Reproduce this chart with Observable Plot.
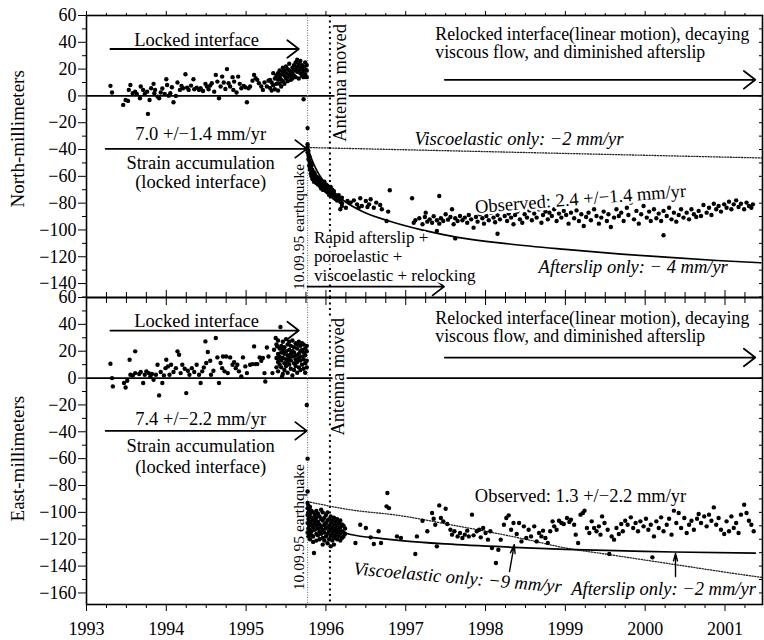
<!DOCTYPE html>
<html><head><meta charset="utf-8">
<script src="https://cdn.jsdelivr.net/npm/d3@7"></script>
<script src="https://cdn.jsdelivr.net/npm/@observablehq/plot@0.6"></script>
<style>body{margin:0;background:#fff}#chart svg{display:block}</style>
</head><body><div id="chart"></div><script>
// ---------- DATA (year, millimeters) ----------
const northObserved = [
[1993.30,7.5],[1993.32,2.5],[1993.46,-6.7],[1993.49,-3],[1993.52,-3.7],[1993.53,4.5],[1993.55,8.2],[1993.58,2],[1993.61,3.2],[1993.63,1.5],[1993.67,-1.7],[1993.68,7],[1993.71,4.5],[1993.73,1.5],[1993.76,3.2],[1993.77,-13.4],[1993.79,-3],[1993.81,5.7],[1993.84,9],[1993.85,2],[1993.86,4.5],[1993.89,-0.5],[1993.91,-1.7],[1993.93,2.5],[1993.95,5.5],[1993.98,1.5],[1994.00,12.4],[1994.01,8.2],[1994.03,0.2],[1994.05,2],[1994.07,6.5],[1994.09,-4.7],[1994.12,0],[1994.14,10],[1994.17,4.5],[1994.19,7.5],[1994.21,5.7],[1994.24,16.2],[1994.26,6.2],[1994.28,4.5],[1994.31,7.7],[1994.34,12.4],[1994.35,5],[1994.38,6.2],[1994.41,4.5],[1994.43,5.7],[1994.46,3.7],[1994.49,9],[1994.51,7],[1994.53,5],[1994.55,7.7],[1994.57,9.5],[1994.60,3.2],[1994.62,15.7],[1994.64,10.7],[1994.66,-1.7],[1994.68,7],[1994.70,14.4],[1994.72,10],[1994.74,5.2],[1994.76,20],[1994.78,9.5],[1994.80,7],[1994.83,14],[1994.84,4.5],[1994.85,10.7],[1994.88,2.5],[1994.90,14.4],[1994.92,9],[1994.94,5.7],[1994.97,7.5],[1994.99,6.5],[1995.01,-4.7],[1995.03,5.7],[1995.05,7],[1995.08,11.4],[1995.10,15.7],[1995.12,13.2],[1995.14,12],[1995.16,9.5],[1995.19,7],[1995.21,4.5],[1995.23,10],[1995.26,7],[1995.28,11.4],
[1995.30,12],[1995.30,6],[1995.32,10],[1995.32,4],[1995.34,17],[1995.34,8],[1995.36,13],[1995.36,5],[1995.38,9],[1995.38,15],[1995.40,12],[1995.40,17],[1995.40,4],[1995.42,14],[1995.42,9],[1995.42,19],[1995.44,16],[1995.44,7],[1995.44,12],[1995.46,18],[1995.46,11],[1995.46,21],[1995.48,15],[1995.48,9],[1995.48,19],[1995.50,13],[1995.50,17],[1995.50,22],[1995.52,20],[1995.52,14],[1995.52,11],[1995.54,16],[1995.54,19],[1995.54,24],[1995.56,12],[1995.56,18],[1995.56,15],[1995.58,21],[1995.58,17],[1995.58,13],[1995.60,19],[1995.60,23],[1995.60,15],[1995.62,14],[1995.62,20],[1995.62,25],[1995.64,18],[1995.64,22],[1995.64,27],[1995.66,24],[1995.66,19],[1995.66,13],[1995.68,17],[1995.68,21],[1995.68,26],[1995.70,15],[1995.70,20],[1995.70,23],[1995.72,18],[1995.72,22],[1995.72,14],[1995.74,20],[1995.74,25],[1995.74,16],[1995.76,14],[1995.76,19],[1995.76,23],[1995.72,-2.5],
[1995.77,-24],[1995.77,-36],[1995.77,-38],[1995.77,-40],[1995.77,-42],[1995.78,-44],[1995.78,-41],[1995.78,-47],[1995.79,-48],[1995.79,-52],[1995.79,-45],[1995.80,-50],[1995.80,-55],[1995.80,-53],[1995.81,-54],[1995.81,-58],[1995.81,-50],[1995.82,-56],[1995.82,-60],[1995.82,-52],[1995.83,-58],[1995.83,-55],[1995.83,-62],[1995.85,-57],[1995.85,-60],[1995.85,-64],[1995.86,-61],[1995.86,-58],[1995.86,-63],[1995.88,-62],[1995.88,-65],[1995.88,-60],[1995.90,-63],[1995.90,-66],[1995.90,-61],[1995.92,-64],[1995.92,-67],[1995.92,-62],[1995.94,-66],[1995.94,-63],[1995.94,-69],[1995.96,-65],[1995.96,-68],[1995.96,-70],[1995.98,-67],[1995.98,-70],[1995.98,-64],[1996.00,-68],[1996.00,-71],[1996.00,-66],[1996.02,-70],[1996.02,-67],[1996.02,-72],[1996.04,-69],[1996.04,-72],[1996.04,-74],[1996.06,-71],[1996.06,-74],[1996.06,-68],[1996.08,-72],[1996.08,-75],[1996.08,-70],[1996.10,-73],[1996.10,-76],[1996.10,-71],[1996.12,-74],[1996.12,-77],[1996.14,-75],[1996.14,-78],[1996.16,-76],[1996.16,-74],[1996.18,-77],[1996.18,-79],[1996.18,-84.6],[1996.20,-76],[1996.20,-80],[1996.20,-82.1],[1996.25,-83.4],
[1996.27,-78.4],[1996.31,-79.6],[1996.35,-77.9],[1996.39,-80.9],[1996.41,-83.4],[1996.43,-76.4],[1996.45,-82.1],[1996.50,-78.4],[1996.52,-82.9],[1996.54,-80.9],[1996.56,-77.1],[1996.60,-83.4],[1996.63,-79.6],[1996.68,-81.4],[1996.70,-84.6],[1996.76,-93.3],[1996.78,-86.3],[1996.80,-70.4],[1997.08,-76.4],[1997.25,-87.1],[1997.39,-100.8],[1997.42,-74.7],[1997.58,-84.6],[1997.62,-106.3],[1998.15,-102.8],[2000.23,-104],
[1997.10,-94.6],[1997.12,-92.8],[1997.17,-91.3],[1997.21,-95.8],[1997.24,-90.3],[1997.27,-93.8],[1997.30,-92.1],[1997.33,-94.6],[1997.35,-89.8],[1997.39,-92.8],[1997.42,-95.3],[1997.44,-91.3],[1997.47,-93.3],[1997.50,-88.3],[1997.53,-92.3],[1997.56,-90.3],[1997.60,-95.8],[1997.62,-91.3],[1997.65,-93.3],[1997.68,-89.6],[1997.71,-92.8],[1997.74,-90.8],[1997.77,-94.6],[1997.79,-88.8],[1997.82,-92.1],[1997.85,-98.3],[1997.88,-90.3],[1997.90,-93.8],[1997.93,-88.3],[1997.96,-91.3],[1997.98,-95.3],[1998.01,-89.6],[1998.04,-92.8],[1998.07,-87.1],[1998.10,-90.8],[1998.12,-94.3],[1998.15,-88.8],[1998.18,-92.1],[1998.21,-85.8],[1998.24,-89.6],[1998.27,-93.3],[1998.29,-87.8],[1998.32,-90.8],[1998.35,-95.8],[1998.37,-88.8],[1998.40,-86.3],[1998.43,-92.1],[1998.46,-94.6],[1998.49,-88.3],[1998.52,-90.8],[1998.55,-85.4],[1998.58,-92.8],[1998.61,-87.8],[1998.64,-90.8],[1998.67,-84.6],[1998.70,-94.6],[1998.72,-88.8],[1998.75,-86.3],[1998.78,-92.1],[1998.80,-87.1],[1998.83,-89.6],[1998.86,-84.6],[1998.89,-93.3],[1998.92,-87.8],[1998.95,-90.8],[1998.98,-85.8],[1999.01,-88.8],[1999.04,-95.3],[1999.07,-87.1],[1999.11,-91.3],[1999.14,-85.4],[1999.17,-93.3],[1999.20,-88.3],[1999.23,-97.0],[1999.26,-90.3],[1999.29,-87.1],[1999.32,-92.8],[1999.36,-84.6],[1999.39,-89.6],[1999.42,-95.3],[1999.45,-90.8],[1999.48,-86.3],[1999.52,-93.3],[1999.54,-88.3],[1999.57,-97.8],[1999.61,-90.8],[1999.64,-84.6],[1999.67,-89.6],[1999.70,-87.1],[1999.73,-93.3],[1999.77,-83.4],[1999.79,-88.8],[1999.82,-79.6],[1999.86,-92.1],[1999.89,-85.8],[1999.92,-95.3],[1999.95,-88.3],[1999.98,-82.1],[2000.02,-90.8],[2000.05,-86.3],[2000.07,-93.3],[2000.11,-84.6],[2000.14,-91.3],[2000.17,-87.8],[2000.20,-93.3],[2000.23,-85.8],[2000.27,-89.6],[2000.30,-83.4],[2000.33,-92.1],[2000.36,-87.1],[2000.39,-93.8],[2000.42,-88.8],[2000.45,-84.6],[2000.48,-90.8],[2000.52,-87.1],[2000.55,-92.1],[2000.58,-84.6],[2000.61,-88.3],[2000.64,-90.3],[2000.67,-85.8],[2000.70,-89.6],[2000.73,-81.4],[2000.77,-87.1],[2000.80,-83.4],[2000.83,-88.8],[2000.86,-80.4],[2000.89,-84.6],[2000.92,-82.1],[2000.95,-86.3],[2000.99,-80.9],[2001.02,-83.4],[2001.05,-78.9],[2001.08,-84.6],[2001.11,-80.9],[2001.14,-77.9],[2001.17,-82.9],[2001.20,-80.4],[2001.24,-84.6],[2001.27,-79.6],[2001.30,-82.1],[2001.33,-83.4],[2001.35,-80.9]
];
const northAfterslip = [[1995.77,-38],[1995.82,-47],[1995.88,-55],[1995.95,-62],[1996.05,-69],[1996.22,-78],[1996.45,-86],[1996.77,-93],[1997.2,-100],[1997.65,-105.5],[1998.3,-110.5],[1999.0,-114.5],[1999.7,-118],[2000.3,-120.5],[2000.9,-122.8],[2001.45,-124.5]];
const northViscoelastic = [[1995.77,-38.5],[2001.47,-46.3]];

const eastObserved = [
[1993.30,10.7],[1993.32,0],[1993.33,-6.2],[1993.47,-3.7],[1993.49,-7],[1993.51,-2],[1993.54,13.7],[1993.55,2.5],[1993.58,2],[1993.61,19.9],[1993.61,3.7],[1993.66,3],[1993.68,4.5],[1993.71,-3.7],[1993.73,2.5],[1993.75,5],[1993.78,3.7],[1993.80,1.2],[1993.82,3],[1993.84,-1.2],[1993.87,2.5],[1993.89,9.9],[1993.91,-12.9],[1993.93,4.5],[1993.95,-3.7],[1993.97,2],[1993.99,7.4],[1994.00,13.7],[1994.02,8.7],[1994.04,2.5],[1994.06,9.9],[1994.09,4.5],[1994.12,7.4],[1994.14,19.9],[1994.16,17.4],[1994.18,3.7],[1994.20,9.9],[1994.23,7],[1994.25,-11.2],[1994.27,5.5],[1994.29,2.5],[1994.32,7.4],[1994.35,4.5],[1994.38,9.9],[1994.41,2.5],[1994.43,-3.7],[1994.45,5],[1994.47,7.9],[1994.49,27.3],[1994.50,11.2],[1994.52,19.4],[1994.55,12.9],[1994.56,2.5],[1994.59,5.5],[1994.62,29.8],[1994.64,15.4],[1994.66,-3.7],[1994.68,11.2],[1994.70,7.4],[1994.71,16.1],[1994.73,5],[1994.75,16.1],[1994.77,3.7],[1994.80,15.4],[1994.83,9.9],[1994.85,11.9],[1994.87,7.4],[1994.89,9.9],[1994.91,5],[1994.94,1.2],[1994.96,15.4],[1994.99,8.7],[1995.01,3.7],[1995.05,9.9],[1995.08,10.4],[1995.10,23.6],[1995.12,10.4],[1995.14,10.4],[1995.17,15.4],[1995.19,12.9],[1995.21,14.9],[1995.23,3.7],[1995.24,-2.5],[1995.26,22.8],[1995.28,16.1],[1995.33,3.7],[1995.35,21.1],[1995.37,29.8],[1995.39,23.6],[1995.41,14.9],[1995.43,38],[1995.45,1.2],[1995.47,19.9],
[1995.38,25],[1995.38,15],[1995.38,8],[1995.40,28],[1995.40,12],[1995.40,18],[1995.40,5],[1995.42,22],[1995.42,10],[1995.42,16],[1995.44,19],[1995.44,8],[1995.44,24],[1995.44,13],[1995.46,27],[1995.46,15],[1995.46,3],[1995.46,21],[1995.48,23],[1995.48,11],[1995.48,18],[1995.48,6],[1995.50,29],[1995.50,14],[1995.50,20],[1995.50,9],[1995.52,17],[1995.52,25],[1995.52,4],[1995.52,12],[1995.54,21],[1995.54,27],[1995.54,10],[1995.54,15],[1995.56,24],[1995.56,7],[1995.56,18],[1995.56,13],[1995.58,28],[1995.58,16],[1995.58,2],[1995.58,20],[1995.60,19],[1995.60,23],[1995.60,11],[1995.60,6],[1995.62,26],[1995.62,14],[1995.62,17],[1995.62,9],[1995.64,22],[1995.64,12],[1995.64,25],[1995.64,4],[1995.66,18],[1995.66,27],[1995.66,8],[1995.66,15],[1995.68,24],[1995.68,13],[1995.68,20],[1995.68,6],[1995.70,21],[1995.70,10],[1995.70,16],[1995.70,26],[1995.72,25],[1995.72,14],[1995.72,7],[1995.72,19],[1995.74,17],[1995.74,22],[1995.74,11],[1995.74,4],[1995.76,20],[1995.76,13],[1995.76,24],[1995.76,8],
[1995.76,-20],[1995.77,-60],[1995.77,-84.5],
[1995.77,-93],[1995.77,-97],[1995.77,-102],[1995.77,-108],[1995.77,-115],[1995.78,-95],[1995.78,-100],[1995.78,-105],[1995.78,-112],[1995.78,-118],[1995.79,-98],[1995.79,-103],[1995.79,-110],[1995.79,-116],[1995.80,-96],[1995.80,-101],[1995.80,-107],[1995.80,-113],[1995.80,-120],[1995.82,-99],[1995.82,-104],[1995.82,-109],[1995.82,-114],[1995.82,-117],[1995.84,-100],[1995.84,-106],[1995.84,-111],[1995.84,-118],[1995.84,-122],[1995.85,-130.3],[1995.86,-102],[1995.86,-108],[1995.86,-113],[1995.86,-105],[1995.88,-99],[1995.88,-104],[1995.88,-110],[1995.88,-116],[1995.88,-121],[1995.90,-101],[1995.90,-107],[1995.90,-112],[1995.90,-117],[1995.92,-103],[1995.92,-109],[1995.92,-114],[1995.92,-120],[1995.94,-98],[1995.94,-105],[1995.94,-111],[1995.94,-116],[1995.96,-100],[1995.96,-106],[1995.96,-113],[1995.96,-119],[1995.96,-124],[1995.98,-104],[1995.98,-109],[1995.98,-115],[1995.98,-121],[1996.00,-102],[1996.00,-108],[1996.00,-112],[1996.00,-118],[1996.02,-100],[1996.02,-106],[1996.02,-111],[1996.02,-116],[1996.02,-123],[1996.04,-105],[1996.04,-110],[1996.04,-114],[1996.04,-120],[1996.06,-103],[1996.06,-108],[1996.06,-113],[1996.06,-118],[1996.06,-125.3],[1996.08,-106],[1996.08,-111],[1996.08,-116],[1996.08,-121],[1996.10,-104],[1996.10,-109],[1996.10,-114],[1996.10,-119],[1996.10,-124],[1996.12,-107],[1996.12,-112],[1996.12,-117],[1996.14,-105],[1996.14,-110],[1996.14,-115],[1996.14,-120],[1996.16,-108],[1996.16,-113],[1996.16,-118],[1996.18,-106],[1996.18,-111],[1996.18,-116],[1996.18,-121],[1996.20,-109],[1996.20,-114],[1996.20,-119],[1996.22,-110],[1996.22,-115],[1996.22,-118],[1996.24,-112],[1996.24,-116],
[1996.37,-122.8],[1996.43,-109.2],[1996.50,-111.6],[1996.56,-118.6],[1996.60,-123.6],[1996.66,-114.1],[1996.69,-122.8],[1996.76,-95.5],[1996.77,-85.6],[1996.79,-96.8],[1996.89,-117.9],[1996.94,-119.1],[1997.12,-131],[1997.14,-117.9],[1997.21,-106.2],[1997.27,-114.1],[1997.33,-100.5],[1997.35,-104.7],[1997.37,-109.2],[1997.39,-125.3],[1997.42,-94.8],[1997.44,-104.2],[1997.47,-106.7],[1997.50,-97.3],[1997.52,-108.7],[1997.56,-112.9],[1997.58,-116.6],[1997.61,-114.1],[1997.65,-117.9],[1997.68,-115.4],[1997.71,-119.1],[1997.74,-116.6],[1997.77,-113.6],[1997.79,-117.9],[1997.83,-101.7],[1997.85,-117.1],[1997.89,-114.1],[1997.92,-112.9],[1997.94,-118.6],[1997.97,-111.6],[1998.00,-115.4],[1998.03,-120.3],[1998.06,-114.1],[1998.08,-126.5],[1998.13,-137.7],[1998.16,-127.8],[1998.19,-120.3],[1998.23,-109.2],[1998.26,-104.2],[1998.29,-102.2],[1998.32,-112.9],[1998.35,-107.9],[1998.39,-116.1],[1998.42,-107.9],[1998.45,-121.6],[1998.48,-110.4],[1998.51,-119.1],[1998.54,-112.9],[1998.57,-117.9],[1998.61,-110.4],[1998.64,-121.6],[1998.67,-115.4],[1998.70,-117.9],[1998.72,-113.6],[1998.75,-119.1],[1998.78,-122.8],[1998.81,-114.1],[1998.84,-106.7],[1998.86,-110.4],[1998.89,-112.9],[1998.92,-106.2],[1998.95,-107.9],[1998.98,-108.7],[1999.02,-104.2],[1999.05,-107.2],[1999.07,-105.4],[1999.11,-109.2],[1999.13,-116.6],[1999.16,-122.8],[1999.19,-101.7],[1999.22,-100.5],[1999.24,-98.7],[1999.27,-111.6],[1999.30,-115.4],[1999.33,-106.7],[1999.36,-111.6],[1999.39,-114.1],[1999.42,-110.4],[1999.44,-116.6],[1999.46,-103],[1999.49,-107.9],[1999.53,-112.9],[1999.55,-131],[1999.58,-117.9],[1999.61,-120.3],[1999.64,-111.6],[1999.67,-116.1],[1999.70,-108.7],[1999.72,-114.1],[1999.75,-106.2],[1999.78,-109.2],[1999.82,-103.7],[1999.85,-111.6],[1999.88,-107.9],[1999.91,-114.1],[1999.94,-106.7],[1999.98,-110.4],[2000.01,-104.7],[2000.04,-112.9],[2000.07,-109.2],[2000.09,-133.5],[2000.11,-117.9],[2000.14,-106.7],[2000.17,-111.6],[2000.20,-103.7],[2000.23,-114.1],[2000.27,-109.2],[2000.30,-104.7],[2000.33,-116.6],[2000.36,-98.7],[2000.39,-107.9],[2000.42,-100.5],[2000.45,-111.6],[2000.49,-104.2],[2000.52,-115.4],[2000.55,-109.2],[2000.58,-106.2],[2000.61,-112.9],[2000.65,-104.7],[2000.67,-101.2],[2000.70,-107.9],[2000.74,-103],[2000.77,-110.4],[2000.80,-101.7],[2000.83,-106.2],[2000.86,-96.3],[2000.89,-109.2],[2000.92,-104.2],[2000.95,-112.9],[2000.99,-116.1],[2001.02,-106.7],[2001.05,-114.1],[2001.08,-103],[2001.11,-111.6],[2001.14,-107.9],[2001.17,-115.4],[2001.20,-101.7],[2001.24,-94.3],[2001.27,-100.5],[2001.30,-106.2],[2001.33,-109.2],[2001.36,-114.1]
];
const eastAfterslip = [[1995.77,-100],[1995.9,-108],[1996.1,-113],[1996.31,-116.5],[1996.7,-119.5],[1996.94,-121],[1997.5,-123.5],[1998.35,-126],[1999.0,-127.5],[1999.86,-128.8],[2000.36,-129.5],[2001.38,-130.3]];
const eastViscoelastic = [[1995.77,-92],[1996.3,-98],[1996.94,-102.5],[1997.5,-108.5],[1998.0,-114],[1998.5,-120],[1999.0,-126.5],[1999.5,-131],[2000.0,-135.5],[2000.5,-140],[2001.0,-144.5],[2001.47,-148.5]];

const yearTicks = [1993,1994,1995,1996,1997,1998,1999,2000,2001];
const quarterTicks = d3.range(1993.25, 2001.4, 0.25).filter(v => v % 1 !== 0);
const northTicks = [60,40,20,0,-20,-40,-60,-80,-100,-120,-140];
const northMinorTicks = [50,30,10,-10,-30,-50,-70,-90,-110,-130,-150];
const eastTicks = [60,40,20,0,-20,-40,-60,-80,-100,-120,-140,-160];
const eastMinorTicks = [50,30,10,-10,-30,-50,-70,-90,-110,-130,-150];
const earthquakeYear = 1995.77;
const antennaYear = 1996.05;

// ---------- ANNOTATIONS ----------
const northNotes = [
  {t:"Locked interface", x:1994.38, y:41.8},
  {t:"7.0 +/−1.4 mm/yr", x:1994.43, y:-28.4},
  {t:"Strain accumulation", x:1994.43, y:-50},
  {t:"(locked interface)", x:1994.43, y:-64},
  {t:"10.09.95 earthquake", x:1995.66, y:-97.8, rotate:-90, size:15.5},
  {t:"Antenna moved", x:1996.18, y:9.7, rotate:-90, halo:true},
  {t:"Relocked interface(linear motion), decaying", x:1997.37, y:46, anchor:"start", size:17.8},
  {t:"viscous flow, and diminished afterslip", x:1997.37, y:32.5, anchor:"start", size:17.8},
  {t:"Viscoelastic only: −2 mm/yr", x:1997.11, y:-32.5, anchor:"start", italic:true},
  {t:"Observed: 2.4 +/−1.4 mm/yr", x:1999.19, y:-76.9, rotate:-4.4, halo:true},
  {t:"Afterslip only: − 4 mm/yr", x:1999.85, y:-127.5, italic:true},
  {t:"Rapid afterslip +", x:1995.85, y:-106, anchor:"start", halo:true, size:17},
  {t:"poroelastic +", x:1995.85, y:-120, anchor:"start", halo:true, size:17},
  {t:"viscoelastic + relocking", x:1995.85, y:-134, anchor:"start", halo:true, size:17}
];
const northArrows = [
  {x1:1993.30, y1:35, x2:1995.66, y2:35},
  {x1:1993.24, y1:-39.5, x2:1995.76, y2:-39.5},
  {x1:1997.49, y1:12, x2:2001.38, y2:12},
  {x1:1995.77, y1:-142.3, x2:1997.48, y2:-142.3}
];
const eastNotes = [
  {t:"Locked interface", x:1994.38, y:42.8},
  {t:"7.4 +/−2.2 mm/yr", x:1994.43, y:-30.2},
  {t:"Strain accumulation", x:1994.43, y:-51},
  {t:"(locked interface)", x:1994.43, y:-66},
  {t:"10.09.95 earthquake", x:1995.66, y:-111, rotate:-90, size:15.5},
  {t:"Antenna moved", x:1996.15, y:1, rotate:-90, halo:true},
  {t:"Relocked interface(linear motion), decaying", x:1997.37, y:44.8, anchor:"start", size:17.8},
  {t:"viscous flow, and diminished afterslip", x:1997.37, y:30.9, anchor:"start", size:17.8},
  {t:"Observed: 1.3 +/−2.2 mm/yr", x:1999.19, y:-88.2, halo:true},
  {t:"Viscoelastic only: −9 mm/yr", x:1997.65, y:-148.6, rotate:5, italic:true, halo:true},
  {t:"Afterslip only: −2 mm/yr", x:2000.23, y:-156.8, italic:true, halo:true}
];
const eastArrows = [
  {x1:1993.30, y1:35.4, x2:1995.66, y2:35.4},
  {x1:1993.24, y1:-39.3, x2:1995.76, y2:-39.3},
  {x1:1997.49, y1:15.3, x2:2001.38, y2:15.3}
];
const eastPointers = [
  {x1:1998.30, y1:-144, x2:1998.36, y2:-124},
  {x1:2000.38, y1:-147.8, x2:2000.38, y2:-130.5}
];

const fmtY = d => d < 0 ? "−" + Math.abs(d) : String(d);
const blank = () => "";
const FONT = "Liberation Serif, Times New Roman, serif";

function notesMarks(notes) {
  return notes.map(n => Plot.text([n], {
    x: "x", y: "y", text: "t",
    rotate: n.rotate || 0,
    textAnchor: n.anchor || "middle",
    lineAnchor: "middle",
    fontSize: n.size || 18.5,
    fontStyle: n.italic ? "italic" : "normal",
    fill: "black",
    stroke: n.halo ? "white" : undefined,
    strokeWidth: n.halo ? 5 : undefined
  }));
}

function panel(cfg) {
  const top = cfg.top;
  return Plot.plot({
    width: 764, height: cfg.height,
    marginLeft: 86, marginRight: 2, marginTop: cfg.marginTop, marginBottom: cfg.marginBottom,
    style: {fontFamily: FONT, fontSize: "18px", background: "white", color: "black", overflow: "visible"},
    x: {domain: [1993, 2001.47]},
    y: {domain: cfg.yDomain},
    marks: [
      Plot.ruleY([0], {stroke: "black", strokeWidth: 1.6}),
      Plot.ruleX([earthquakeYear], {stroke: "#777", strokeWidth: 1.1, strokeDasharray: "1,1.5"}),
      Plot.ruleX([antennaYear], {stroke: "black", strokeWidth: 2, strokeDasharray: "2,3.5"}),
      Plot.line(cfg.visco, {x: d => d[0], y: d => d[1], stroke: "#222", strokeWidth: 1.3, strokeDasharray: "1.2,1.6", curve: "monotone-x"}),
      Plot.line(cfg.after, {x: d => d[0], y: d => d[1], stroke: "black", strokeWidth: 1.7, curve: "monotone-x"}),
      Plot.dot(cfg.obs, {x: d => d[0], y: d => d[1], r: 2.2, fill: "black", stroke: "none"}),
      Plot.arrow(cfg.arrows, {x1: "x1", y1: "y1", x2: "x2", y2: "y2", stroke: "black", strokeWidth: 1.8, headLength: 12, headAngle: 75}),
      Plot.arrow(cfg.pointers || [], {x1: "x1", y1: "y1", x2: "x2", y2: "y2", stroke: "black", strokeWidth: 1.4, headLength: 10, headAngle: 30}),
      ...notesMarks(cfg.notes),
      Plot.frame({stroke: "black", strokeWidth: 1.6}),
      Plot.axisY({anchor: "left", ticks: cfg.yMajor, tickSize: 8, tickPadding: 2, fontSize: 18, tickFormat: fmtY, label: null}),
      Plot.axisY({anchor: "left", ticks: cfg.yMinor, tickSize: 4, tickFormat: blank, label: null}),
      Plot.axisY({anchor: "right", ticks: cfg.yMajor.concat(cfg.yMinor), tickSize: -4, tickFormat: blank, label: null}),
      ...(top ? [
        Plot.axisX({anchor: "top", ticks: yearTicks, tickSize: 5, tickFormat: blank, label: null}),
        Plot.axisX({anchor: "top", ticks: quarterTicks, tickSize: 3, tickFormat: blank, label: null}),
        Plot.axisX({anchor: "bottom", ticks: yearTicks, tickSize: -7, tickFormat: blank, label: null}),
        Plot.axisX({anchor: "bottom", ticks: quarterTicks, tickSize: -5, tickFormat: blank, label: null})
      ] : [
        Plot.axisX({anchor: "top", ticks: yearTicks, tickSize: -7, tickFormat: blank, label: null}),
        Plot.axisX({anchor: "top", ticks: quarterTicks, tickSize: -5, tickFormat: blank, label: null}),
        Plot.axisX({anchor: "bottom", ticks: yearTicks, tickSize: 7, tickPadding: 11, fontSize: 18, tickFormat: d => String(d), label: null}),
        Plot.axisX({anchor: "bottom", ticks: quarterTicks, tickSize: 4, tickFormat: blank, label: null})
      ]),
      Plot.text([cfg.label], {x: 1993, y: cfg.labelY, dx: -69, rotate: -90, text: d => d, fontSize: 19, textAnchor: "middle", lineAnchor: "middle"})
    ]
  });
}

const chart = document.getElementById("chart");
chart.append(panel({
  top: true, height: 297, marginTop: 15, marginBottom: 0, yDomain: [-150.4, 60],
  obs: northObserved, after: northAfterslip, visco: northViscoelastic,
  notes: northNotes, arrows: northArrows, yMajor: northTicks, yMinor: northMinorTicks,
  label: "North-millimeters", labelY: -32
}));
chart.append(panel({
  top: false, height: 343, marginTop: 0, marginBottom: 36, yDomain: [-168.6, 60],
  obs: eastObserved, after: eastAfterslip, visco: eastViscoelastic,
  notes: eastNotes, arrows: eastArrows, pointers: eastPointers, yMajor: eastTicks, yMinor: eastMinorTicks,
  label: "East-millimeters", labelY: -60
}));
</script></body></html>
